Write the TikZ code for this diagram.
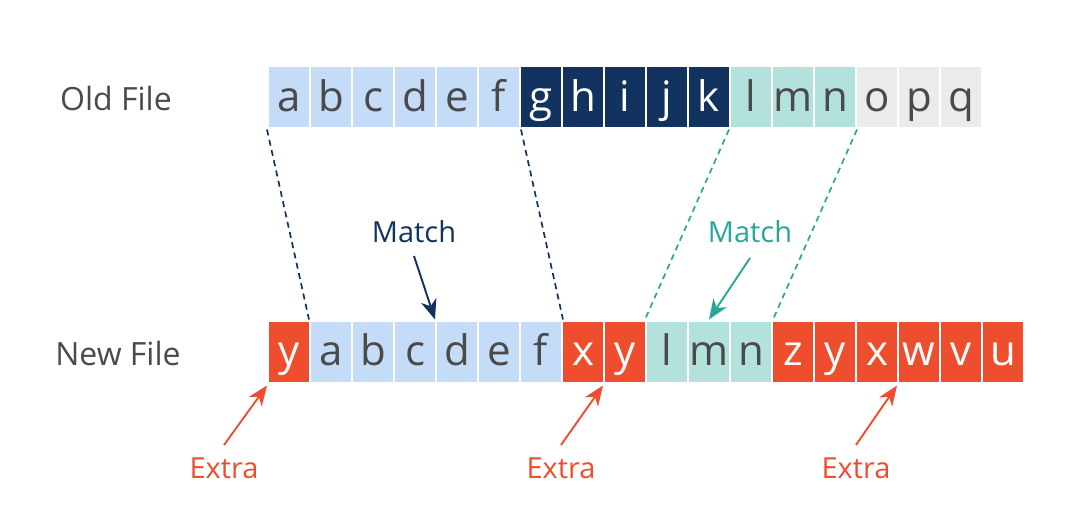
\documentclass[tikz,border=0pt]{standalone}
\usepackage{fontspec}
\setmainfont{Open Sans}
\usetikzlibrary{arrows.meta}
\definecolor{lb}{HTML}{C4DCF8}
\definecolor{nv}{HTML}{12335F}
\definecolor{tl}{HTML}{B3E2DC}
\definecolor{gy}{HTML}{EAEBED}
\definecolor{rd}{HTML}{EE4E2E}
\definecolor{tealtxt}{HTML}{26A898}
\definecolor{txt}{HTML}{4A4A4A}
\tikzset{
  cellbox/.style={draw=white, line width=2pt, minimum width=42pt, minimum height=62pt,
    inner sep=0pt, text height=33pt, text depth=5pt, font=\fontsize{42}{48}\selectfont},
  rowlabel/.style={text=txt, font=\fontsize{32}{36}\selectfont, inner sep=0pt, anchor=base},
  lbl/.style={font=\fontsize{29}{34}\selectfont, inner sep=0pt, anchor=base},
  ptr/.style={line width=1.9pt, -{Stealth[length=20pt,width=16pt,inset=6pt]}},
  dashline/.style={line width=1.7pt, dash pattern=on 6pt off 4.5pt}
}
\begin{document}
\begin{tikzpicture}[x=1pt,y=-1pt]
\useasboundingbox (0,0) rectangle (1080,532);
\node[rowlabel] (oldlbl) at (116,111) {Old File};
\node[rowlabel] (newlbl) at (118,365) {New File};
% old row
\foreach \l/\f/\t [count=\i] in {a/lb/txt,b/lb/txt,c/lb/txt,d/lb/txt,e/lb/txt,f/lb/txt,
  g/nv/white,h/nv/white,i/nv/white,j/nv/white,k/nv/white,
  l/tl/txt,m/tl/txt,n/tl/txt,o/gy/txt,p/gy/txt,q/gy/txt}
  \node[cellbox, fill=\f, text=\t] (o\i) at ({268+42*(\i-1)+21},97.5) {\l};
% new row
\foreach \l/\f/\t [count=\i] in {y/rd/white,a/lb/txt,b/lb/txt,c/lb/txt,d/lb/txt,e/lb/txt,f/lb/txt,
  x/rd/white,y/rd/white,l/tl/txt,m/tl/txt,n/tl/txt,
  z/rd/white,y/rd/white,x/rd/white,w/rd/white,v/rd/white,u/rd/white}
  \node[cellbox, fill=\f, text=\t] (n\i) at ({268+42*(\i-1)+21},351.5) {\l};
% dashed correspondences
\draw[dashline, nv] (o1.south west) -- (n2.north west);
\draw[dashline, nv] (o6.south east) -- (n7.north east);
\draw[dashline, tealtxt] (o12.south west) -- (n10.north west);
\draw[dashline, tealtxt] (o14.south east) -- (n12.north east);
% match labels
\node[lbl, text=nv] (m1) at (414,242.5) {Match};
\node[lbl, text=tealtxt] (m2) at (750,242.5) {Match};
\coordinate (m1s) at (414,256);
\coordinate (m2s) at (750,258);
\draw[ptr, nv] (m1s) -- (n5.north west);
\draw[ptr, tealtxt] (m2s) -- (n11.north);
% extra labels
\node[lbl, text=rd] (e1) at (224,478) {Extra};
\node[lbl, text=rd] (e2) at (561,478) {Extra};
\node[lbl, text=rd] (e3) at (856,478) {Extra};
\coordinate (e1s) at (224,445);
\coordinate (e2s) at (561,445);
\coordinate (e3s) at (856,445);
\coordinate (t1) at ([yshift=-2pt]n1.south west);
\coordinate (t2) at ([yshift=-2pt]n9.south west);
\coordinate (t3) at ([yshift=-2pt]n16.south west);
\draw[ptr, rd] (e1s) -- (t1);
\draw[ptr, rd] (e2s) -- (t2);
\draw[ptr, rd] (e3s) -- (t3);
\end{tikzpicture}
\end{document}
